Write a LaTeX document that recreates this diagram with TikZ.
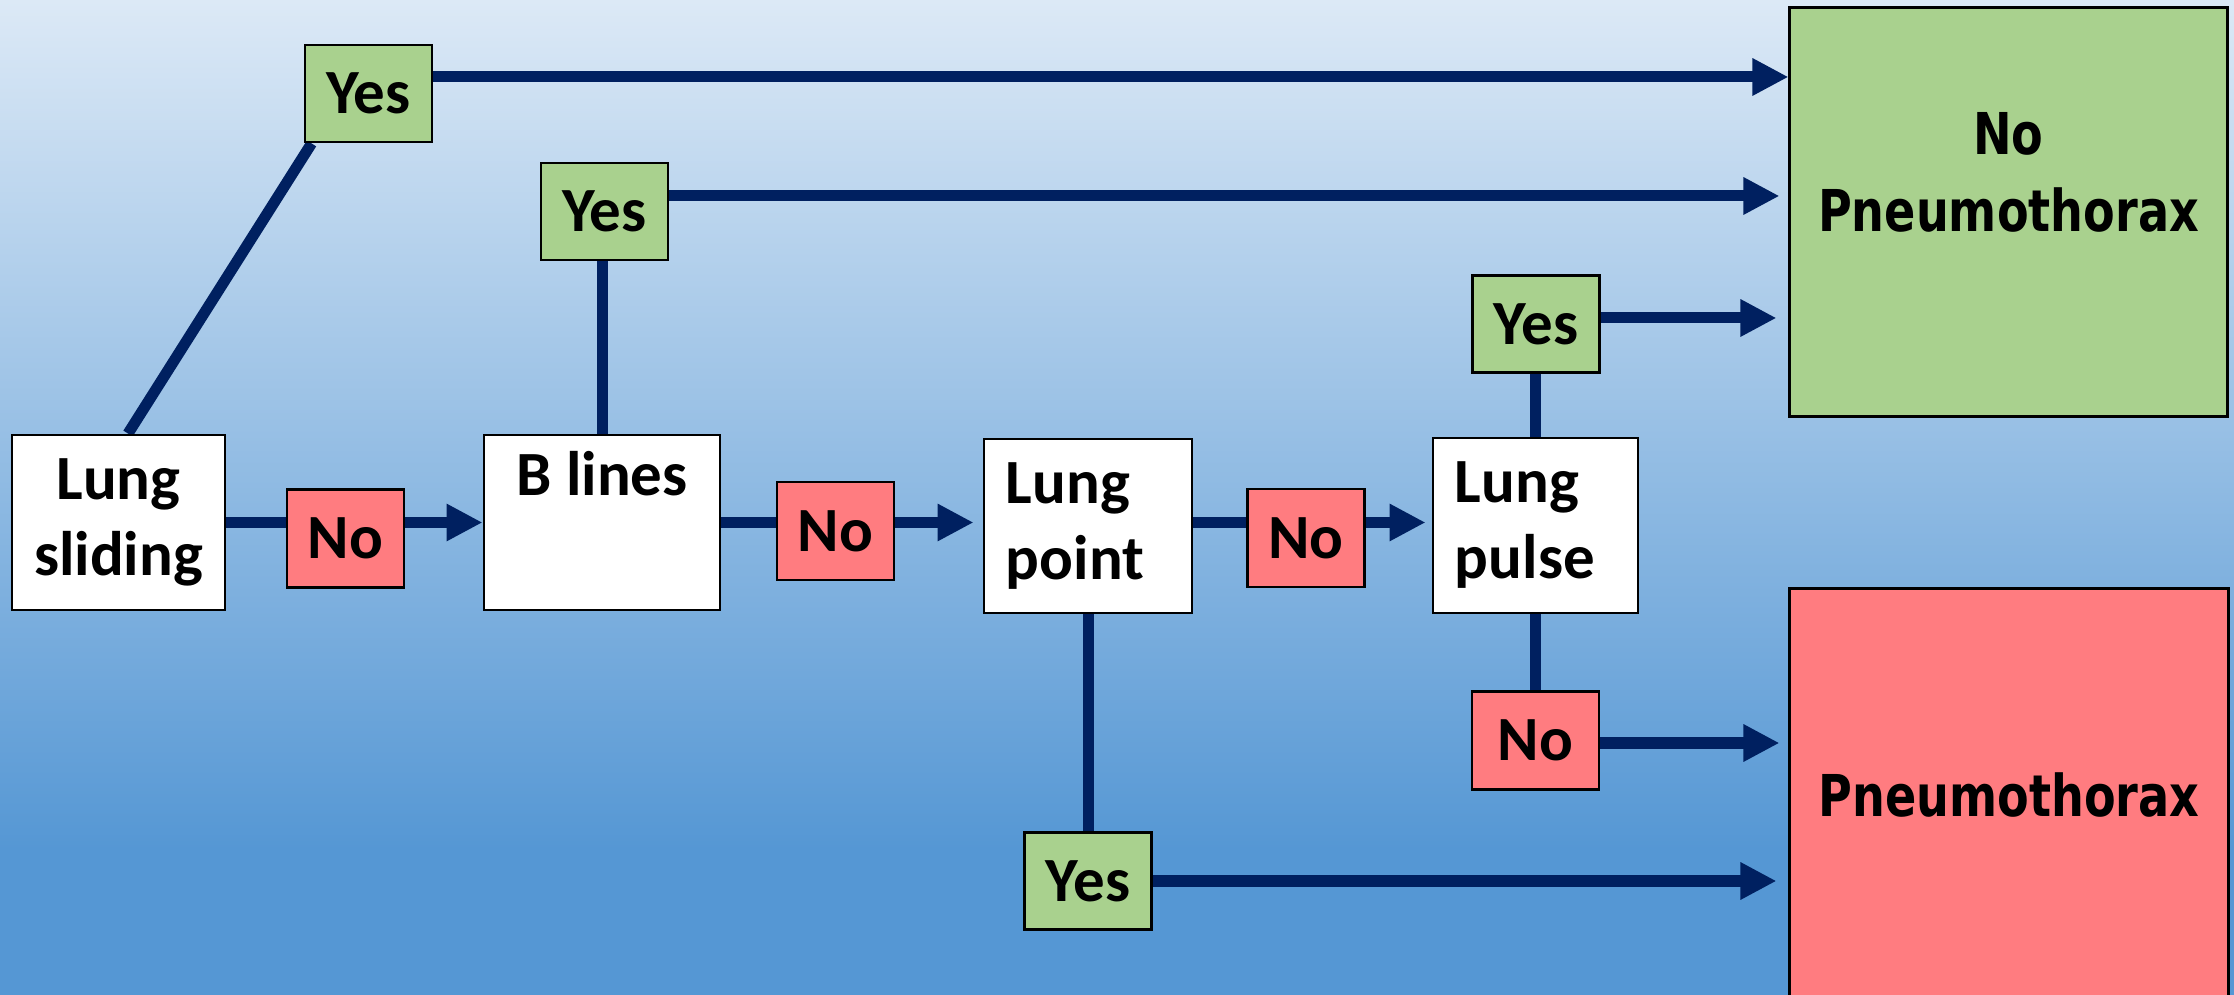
\documentclass[tikz,border=0pt]{standalone}
\usepackage{fontspec}
\setmainfont{Carlito}
\newfontfamily\widefont{DejaVu Sans}[FakeStretch=0.8]
\usetikzlibrary{arrows.meta,calc}
\definecolor{navy}{HTML}{002060}
\definecolor{boxgreen}{HTML}{A9D18E}
\definecolor{boxred}{HTML}{FF7C80}
\definecolor{bgtop}{HTML}{DCE9F6}
\definecolor{bgbot}{HTML}{5597D4}
\pgfdeclarelayer{bgfill}
\pgfdeclarelayer{edges}
\pgfsetlayers{bgfill,edges,main}
\tikzset{
  stepbox/.style={draw=black, line width=0.8pt, fill=white, inner sep=0pt,
    font=\fontsize{17.9pt}{21.6pt}\selectfont\bfseries},
  yesbox/.style={stepbox, fill=boxgreen, minimum width=1.27cm, minimum height=0.97cm},
  nobox/.style={stepbox, fill=boxred, minimum width=1.17cm, minimum height=0.98cm},
  outbox/.style={draw=black, line width=0.8pt, inner sep=0pt, align=center,
    font=\widefont\bfseries\fontsize{16.4pt}{21.9pt}\selectfont},
  conn/.style={draw=navy, line width=0.11cm},
  arr/.style={conn, -{Triangle[length=0.36cm,width=0.35cm]}},
}
\begin{document}
\begin{tikzpicture}[x=0.01cm,y=-0.01cm]
\useasboundingbox (0,0) rectangle (2234,995);
\begin{pgfonlayer}{bgfill}
\shade[top color=bgtop, bottom color=bgbot] (0,0) rectangle (2234,850);
\fill[bgbot] (0,849) rectangle (2234,995);
\end{pgfonlayer}

% main step boxes
\node[stepbox, minimum width=2.13cm, minimum height=1.75cm, align=center] (ls) at (118.5,522.5) {Lung\\sliding};
\node[stepbox, minimum width=2.36cm, minimum height=1.75cm, align=center] (bl) at (602,522.5) {B lines\\\strut};
\node[stepbox, minimum width=2.08cm, minimum height=1.74cm, text width=1.64cm, align=left] (lp) at (1088,526) {Lung\\point};
\node[stepbox, minimum width=2.05cm, minimum height=1.75cm, text width=1.61cm, align=left] (lpu) at (1535.5,525.5) {Lung\\pulse};

% yes / no boxes
\node[yesbox] (y1) at (368.5,93.5) {Yes};
\node[yesbox] (y2) at (604.5,211.5) {Yes};
\node[yesbox] (y3) at (1536,324) {Yes};
\node[yesbox] (y4) at (1088,881) {Yes};
\node[nobox] (n1) at (345.5,538.5) {No};
\node[nobox] (n2) at (835.5,531) {No};
\node[nobox] (n3) at (1306,538) {No};
\node[nobox, minimum width=1.27cm] (n4) at (1535.5,740.5) {No};

% outcome boxes
\node[outbox, fill=boxgreen, minimum width=4.37cm, minimum height=4.08cm] (np) at (2008.5,212) {No\\Pneumothorax\\[-0.2cm]\strut};
\node[outbox, fill=boxred, minimum width=4.38cm, minimum height=4.11cm] (px) at (2009,794.5) {Pneumothorax};

\begin{pgfonlayer}{edges}
\draw[conn] ([xshift=0.095cm]ls.north) -- ([xshift=0.08cm]y1.south west);
\coordinate (a1) at ([yshift=0.165cm]y1.east);
\draw[arr] (a1) -- (a1 -| np.west);
\draw[conn] (bl.north) -- (bl.north |- y2.south);
\coordinate (a2) at ([yshift=0.155cm]y2.east);
\draw[arr, shorten >=0.09cm] (a2) -- (a2 -| np.west);
\draw[arr] (ls.east) -- (bl.west);
\draw[arr, shorten >=0.09cm] (bl.east) -- (bl.east -| lp.west);
\coordinate (a3) at ([yshift=0.035cm]lp.east);
\draw[arr, shorten >=0.06cm] (a3) -- (a3 -| lpu.west);
\draw[conn] (lpu.north) -- (lpu.north |- y3.south);
\coordinate (a4) at ([yshift=0.06cm]y3.east);
\draw[arr, shorten >=0.12cm] (a4) -- (a4 -| np.west);
\draw[conn] (lpu.south) -- (lpu.south |- n4.north);
\coordinate (a5) at ([yshift=-0.025cm]n4.east);
\draw[arr, shorten >=0.09cm] (a5) -- (a5 -| px.west);
\draw[conn] (lp.south) -- (lp.south |- y4.north);
\draw[arr, shorten >=0.12cm] (y4.east) -- (y4.east -| px.west);
\end{pgfonlayer}
\end{tikzpicture}
\end{document}
